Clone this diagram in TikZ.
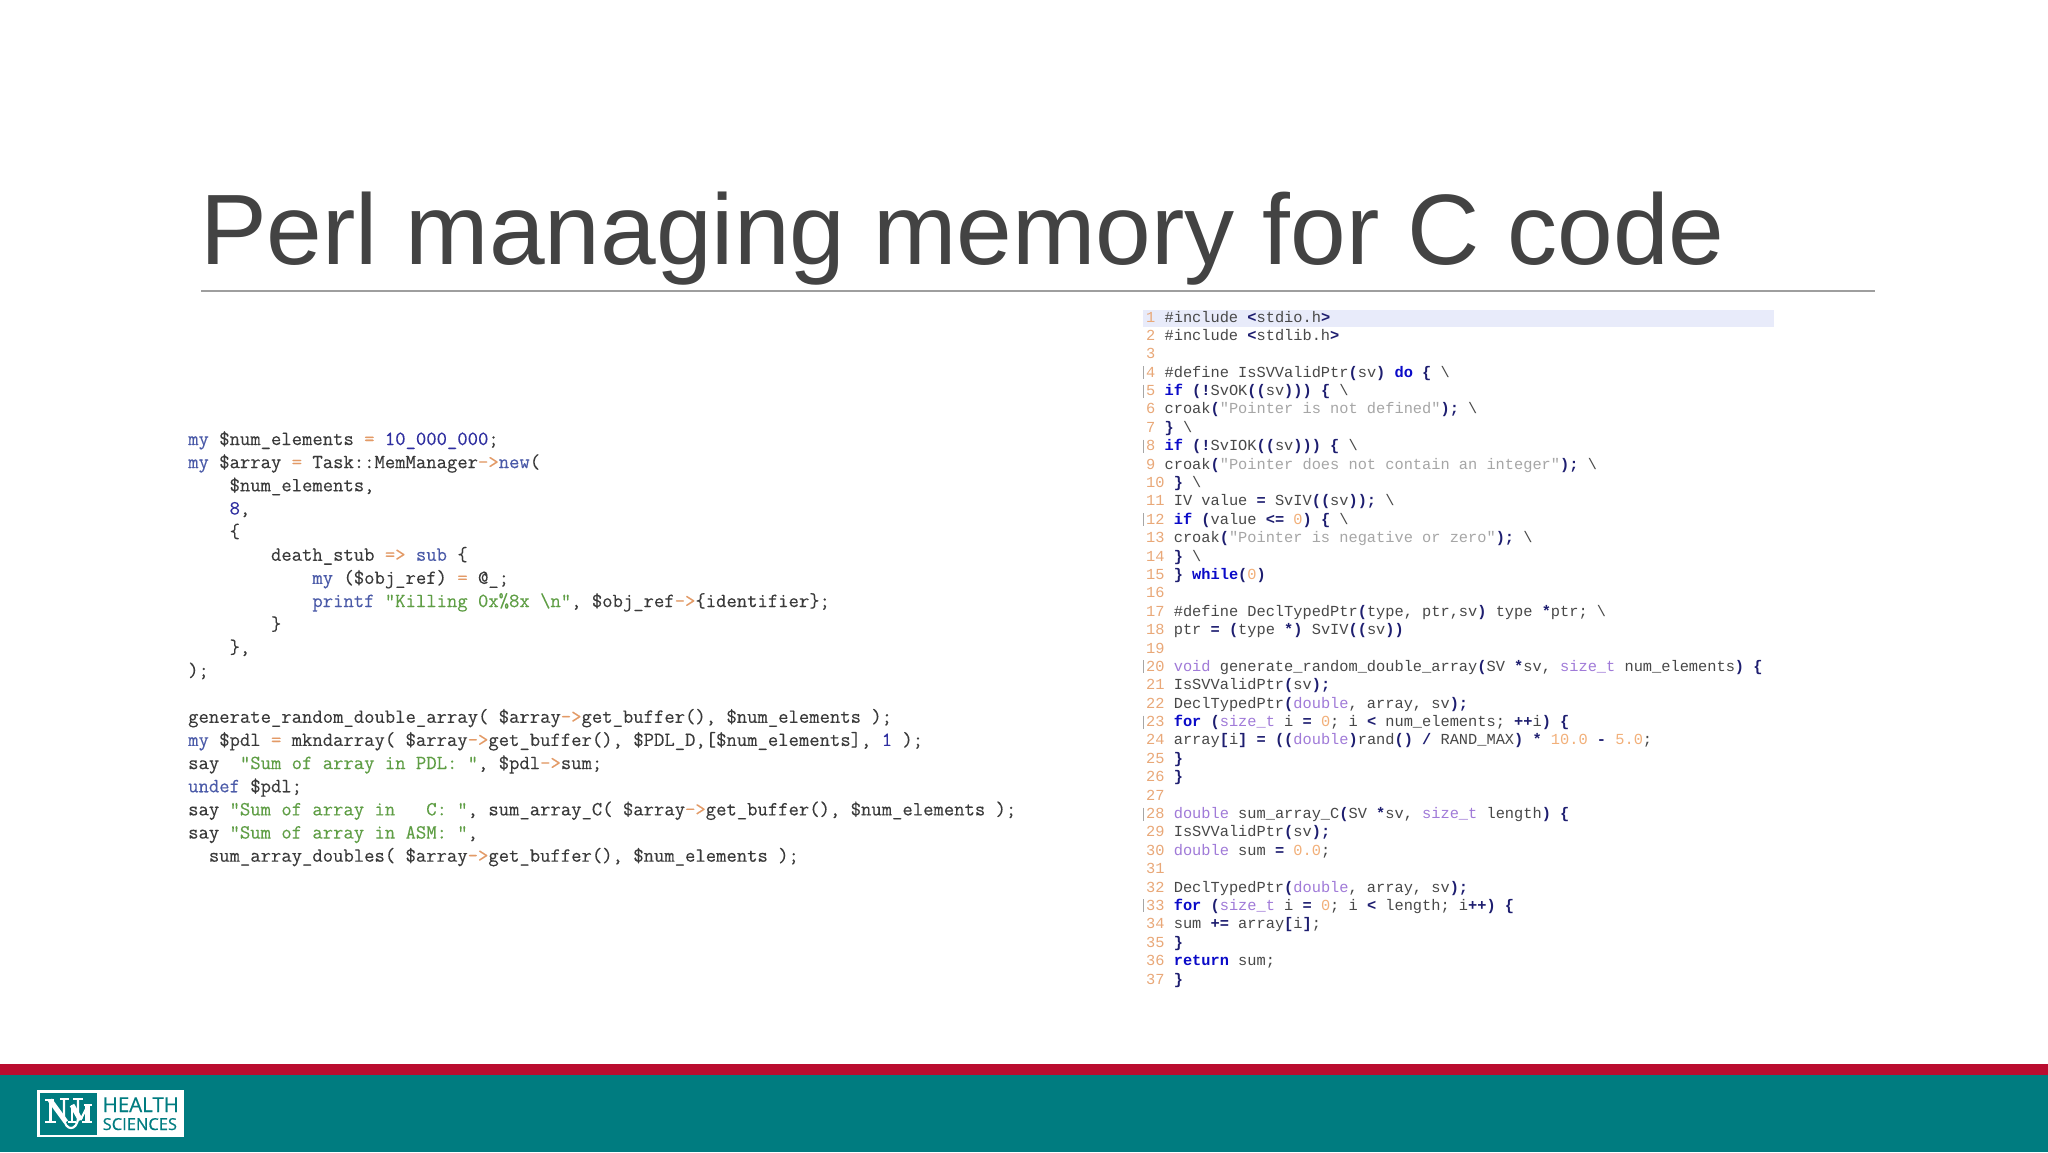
\documentclass[tikz,border=0pt]{standalone}
\usepackage{fontspec}
\setmainfont{Liberation Sans}
\newfontfamily\cfont{Liberation Mono}
\newfontfamily\plfont[FakeBold=0.2]{Latin Modern Mono}
\newfontfamily\logosans[FakeBold=0.5]{Open Sans}
\definecolor{titlegray}{HTML}{434343}
\definecolor{rulegray}{HTML}{9E9E9E}
\definecolor{uteal}{HTML}{007C80}
\definecolor{ured}{HTML}{BA0C2F}
\definecolor{band}{HTML}{E8EBFA}
\definecolor{pltext}{HTML}{3A3A3A}
\definecolor{plkey}{HTML}{4A5AA8}
\definecolor{plnum}{HTML}{2F2FA0}
\definecolor{plstr}{HTML}{5F9E45}
\definecolor{plop}{HTML}{E39A66}
\definecolor{ctext}{HTML}{484848}
\definecolor{ckey}{HTML}{0A0AC8}
\definecolor{ctype}{HTML}{A07AD8}
\definecolor{cstr}{HTML}{A6A6A6}
\definecolor{cnum}{HTML}{F2B07A}
\definecolor{cpun}{HTML}{1E1E70}
\definecolor{cline}{HTML}{E9A878}
\newcommand{\PK}[1]{\textcolor{plkey}{#1}}
\newcommand{\PN}[1]{\textcolor{plnum}{#1}}
\newcommand{\PS}[1]{\textcolor{plstr}{#1}}
\newcommand{\PO}[1]{\textcolor{plop}{#1}}
\newcommand{\CK}[1]{\textcolor{ckey}{\bfseries #1}}
\newcommand{\CT}[1]{\textcolor{ctype}{#1}}
\newcommand{\CS}[1]{\textcolor{cstr}{#1}}
\newcommand{\CN}[1]{\textcolor{cnum}{#1}}
\newcommand{\CP}[1]{\textcolor{cpun}{\bfseries #1}}
\newcommand{\BS}{\textbackslash}
\newcommand{\PLine}[2]{\node[plcode] (pl#1) at (188,{445+(#1-1)*23.15}) {#2};}
\newcommand{\CLine}[2]{\node[ccode] (cl#1) at (1146,{322+(#1-1)*18.39}) {\textcolor{cline}{#1}~#2};}
\newcommand{\Fold}[1]{\draw[foldmark] (1143,{322+(#1-1)*18.39-11}) -- (1143,{322+(#1-1)*18.39+2});}
\tikzset{
  plcode/.style={anchor=base west,inner sep=0pt,text=pltext,font=\plfont\fontsize{20.1}{22}\selectfont},
  ccode/.style={anchor=base west,inner sep=0pt,text=ctext,font=\cfont\fontsize{15.33}{18}\selectfont},
  foldmark/.style={draw=black!35,line width=0.7pt},
  logothin/.style={white,line width=2.2pt},
  logothick/.style={white,line width=5pt},
  logoserif/.style={white,line width=2pt},
}
\begin{document}
\begin{tikzpicture}[x=1pt,y=-1pt]
\useasboundingbox (0,0) rectangle (2048,1152);
\fill[white] (0,0) rectangle (2048,1152);
% title
\node[anchor=base west,inner sep=0pt,text=titlegray,font=\fontsize{100.1}{110}\selectfont] (title) at (200,264) {Perl managing memory for C code};
\coordinate (ruleL) at (201,291);
\coordinate (ruleR) at (1875,291);
\draw[rulegray,line width=1.6pt] (ruleL) -- (ruleR);
% left code
\PLine{1}{\PK{my} \$num\_elements \PO{=} \PN{10\_000\_000};}
\PLine{2}{\PK{my} \$array \PO{=} Task::MemManager\PO{->}\PK{new}(}
\PLine{3}{~~~~\$num\_elements,}
\PLine{4}{~~~~\PN{8},}
\PLine{5}{~~~~\{}
\PLine{6}{~~~~~~~~death\_stub \PO{=>} \PK{sub} \{}
\PLine{7}{~~~~~~~~~~~~\PK{my} (\$obj\_ref) \PO{=} @\_;}
\PLine{8}{~~~~~~~~~~~~\PK{printf} \PS{"Killing 0x\%8x \textbackslash n"}, \$obj\_ref\PO{->}\{identifier\};}
\PLine{9}{~~~~~~~~\}}
\PLine{10}{~~~~\},}
\PLine{11}{);}
\PLine{13}{generate\_random\_double\_array( \$array\PO{->}get\_buffer(), \$num\_elements );}
\PLine{14}{\PK{my} \$pdl \PO{=} mkndarray( \$array\PO{->}get\_buffer(), \$PDL\_D,[\$num\_elements], \PN{1} );}
\PLine{15}{say~~\PS{"Sum of array in PDL: "}, \$pdl\PO{->}sum;}
\PLine{16}{\PK{undef} \$pdl;}
\PLine{17}{say \PS{"Sum of array in~~~C: "}, sum\_array\_C( \$array\PO{->}get\_buffer(), \$num\_elements );}
\PLine{18}{say \PS{"Sum of array in ASM: "},}
\PLine{19}{~~sum\_array\_doubles( \$array\PO{->}get\_buffer(), \$num\_elements );}
% right code
\fill[band] (1143,309.5) rectangle (1774,326.5);
\CLine{1}{\#include \CP{<}stdio.h\CP{>}}
\CLine{2}{\#include \CP{<}stdlib.h\CP{>}}
\CLine{3}{}
\CLine{4}{\#define IsSVValidPtr\CP{(}sv\CP{)} \CK{do} \CP{\{} \BS}
\CLine{5}{\CK{if} \CP{(!}SvOK\CP{((}sv\CP{)))} \CP{\{} \BS}
\CLine{6}{croak\CP{(}\CS{"Pointer is not defined"}\CP{);} \BS}
\CLine{7}{\CP{\}} \BS}
\CLine{8}{\CK{if} \CP{(!}SvIOK\CP{((}sv\CP{)))} \CP{\{} \BS}
\CLine{9}{croak\CP{(}\CS{"Pointer does not contain an integer"}\CP{);} \BS}
\CLine{10}{\CP{\}} \BS}
\CLine{11}{IV value \CP{=} SvIV\CP{((}sv\CP{));} \BS}
\CLine{12}{\CK{if} \CP{(}value \CP{<=} \CN{0}\CP{)} \CP{\{} \BS}
\CLine{13}{croak\CP{(}\CS{"Pointer is negative or zero"}\CP{);} \BS}
\CLine{14}{\CP{\}} \BS}
\CLine{15}{\CP{\}} \CK{while}\CP{(}\CN{0}\CP{)}}
\CLine{16}{}
\CLine{17}{\#define DeclTypedPtr\CP{(}type, ptr,sv\CP{)} type \CP{*}ptr; \BS}
\CLine{18}{ptr \CP{=} \CP{(}type \CP{*)} SvIV\CP{((}sv\CP{))}}
\CLine{19}{}
\CLine{20}{\CT{void} generate\_random\_double\_array\CP{(}SV \CP{*}sv, \CT{size\_t} num\_elements\CP{)} \CP{\{}}
\CLine{21}{IsSVValidPtr\CP{(}sv\CP{);}}
\CLine{22}{DeclTypedPtr\CP{(}\CT{double}, array, sv\CP{);}}
\CLine{23}{\CK{for} \CP{(}\CT{size\_t} i \CP{=} \CN{0}; i \CP{<} num\_elements; \CP{++}i\CP{)} \CP{\{}}
\CLine{24}{array\CP{[}i\CP{]} \CP{=} \CP{((}\CT{double}\CP{)}rand\CP{()} \CP{/} RAND\_MAX\CP{)} \CP{*} \CN{10.0} \CP{-} \CN{5.0};}
\CLine{25}{\CP{\}}}
\CLine{26}{\CP{\}}}
\CLine{27}{}
\CLine{28}{\CT{double} sum\_array\_C\CP{(}SV \CP{*}sv, \CT{size\_t} length\CP{)} \CP{\{}}
\CLine{29}{IsSVValidPtr\CP{(}sv\CP{);}}
\CLine{30}{\CT{double} sum \CP{=} \CN{0.0};}
\CLine{31}{}
\CLine{32}{DeclTypedPtr\CP{(}\CT{double}, array, sv\CP{);}}
\CLine{33}{\CK{for} \CP{(}\CT{size\_t} i \CP{=} \CN{0}; i \CP{<} length; i\CP{++)} \CP{\{}}
\CLine{34}{sum \CP{+=} array\CP{[}i\CP{]};}
\CLine{35}{\CP{\}}}
\CLine{36}{\CK{return} sum;}
\CLine{37}{\CP{\}}}
\Fold{4}\Fold{5}\Fold{8}\Fold{12}\Fold{20}\Fold{23}\Fold{28}\Fold{33}
% footer
\fill[uteal] (0,1075) rectangle (2048,1152);
\fill[ured] (0,1064) rectangle (2048,1075);
% logo
\fill[white] (37,1090) rectangle (184,1137);
\fill[uteal] (39.5,1092.5) rectangle (97,1135);
% N
\draw[logothin] (50.5,1100) -- (50.5,1122);
\draw[logothick] (50,1100) -- (66,1122);
\draw[logoserif] (45,1100) -- (54,1100);
\draw[logoserif] (45,1122) -- (56,1122);
% U
\draw[logothin] (64,1099) -- (64,1117) .. controls (64,1125) and (68,1128) .. (71,1128) .. controls (74,1128) and (78,1125) .. (78,1117) -- (78,1099);
\draw[logoserif] (60,1099) -- (69,1099);
\draw[logoserif] (73,1099) -- (83,1099);
% M
\draw[logothin] (72,1105) -- (72,1122);
\draw[logothick] (72,1105) -- (80.5,1120);
\draw[logothin] (80.5,1120) -- (88,1105);
\draw[logothick] (87.5,1105) -- (87.5,1122);
\draw[logoserif] (68,1122) -- (76,1122);
\draw[logoserif] (82,1122) -- (92,1122);
\draw[logoserif] (84,1105) -- (92,1105);
\node[anchor=base west,inner sep=0pt,text=uteal,font=\logosans\fontsize{20.5}{22}\selectfont] (logoH) at (102.5,1112) {HEALTH};
\node[anchor=base west,inner sep=0pt,text=uteal,font=\logosans\fontsize{16.5}{18}\selectfont] (logoS) at (102.5,1130) {SCIENCES};
\end{tikzpicture}
\end{document}
